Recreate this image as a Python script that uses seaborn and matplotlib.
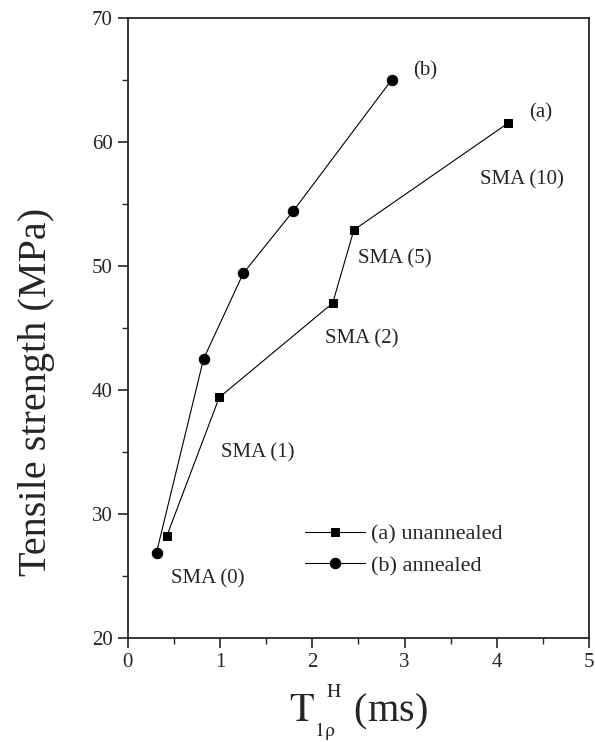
import numpy as np
import pandas as pd
import matplotlib
matplotlib.use("Agg")
import matplotlib.pyplot as plt
import seaborn as sns
from matplotlib.ticker import MultipleLocator

# data
t_unannealed = [0.42, 0.99, 2.22, 2.45, 4.12]
ts_unannealed = [28.2, 39.4, 47.0, 52.9, 61.5]
t_annealed = [0.31, 0.82, 1.25, 1.79, 2.86]
ts_annealed = [26.9, 42.5, 49.4, 54.4, 65.0]

sma_labels = ["SMA (0)", "SMA (1)", "SMA (2)", "SMA (5)", "SMA (10)"]
sma_x = [0.87, 1.41, 2.54, 2.89, 4.27]
sma_y = [24.8, 34.9, 44.1, 50.6, 56.9]

series_tags = ["(a)", "(b)"]
tag_x = [4.48, 3.22]
tag_y = [62.3, 65.7]

df_a = pd.DataFrame({"t": t_unannealed, "ts": ts_unannealed})
df_b = pd.DataFrame({"t": t_annealed, "ts": ts_annealed})

sns.set_style("ticks")
plt.rcParams["font.family"] = ["Liberation Serif", "DejaVu Serif"]
plt.rcParams["mathtext.fontset"] = "stix"

fig = plt.figure(figsize=(5.95, 7.42), dpi=100)
ax = fig.add_axes([0.215, 0.14, 0.775, 0.836])

sns.lineplot(data=df_a, x="t", y="ts", ax=ax, color="black", linewidth=0.8,
             marker="s", markersize=6, markeredgecolor="black", label="(a) unannealed")
sns.lineplot(data=df_b, x="t", y="ts", ax=ax, color="black", linewidth=0.8,
             marker="o", markersize=7.5, markeredgecolor="black", label="(b) annealed")

for lab, x, y in zip(sma_labels, sma_x, sma_y):
    ax.text(x, y, lab, fontsize=15, ha="center", va="center")
for lab, x, y in zip(series_tags, tag_x, tag_y):
    ax.text(x, y, lab, fontsize=15, ha="center", va="center")

ax.set_xlim(0, 5)
ax.set_ylim(20, 70)
ax.xaxis.set_major_locator(MultipleLocator(1))
ax.xaxis.set_minor_locator(MultipleLocator(0.5))
ax.yaxis.set_major_locator(MultipleLocator(10))
ax.yaxis.set_minor_locator(MultipleLocator(5))
ax.tick_params(which="major", direction="out", length=7, width=1.2, labelsize=15, pad=4)
ax.tick_params(which="minor", direction="out", length=4, width=1.0)
for s in ax.spines.values():
    s.set_linewidth(1.3)
    s.set_visible(True)

ax.set_xlabel(r"$\mathrm{T}_{_{\mathrm{1ρ}}}^{^{\;\;\;\mathrm{H}}}$ (ms)", fontsize=29, labelpad=7)
ax.set_ylabel("Tensile strength (MPa)", fontsize=29)
ax.yaxis.set_label_coords(-0.158, 0.397)

ax.legend(loc="center left", bbox_to_anchor=(0.34, 0.142), frameon=False,
          fontsize=16, handlelength=2.7, handletextpad=0.3, labelspacing=0.5)

fig.savefig("out.png", dpi=100)
